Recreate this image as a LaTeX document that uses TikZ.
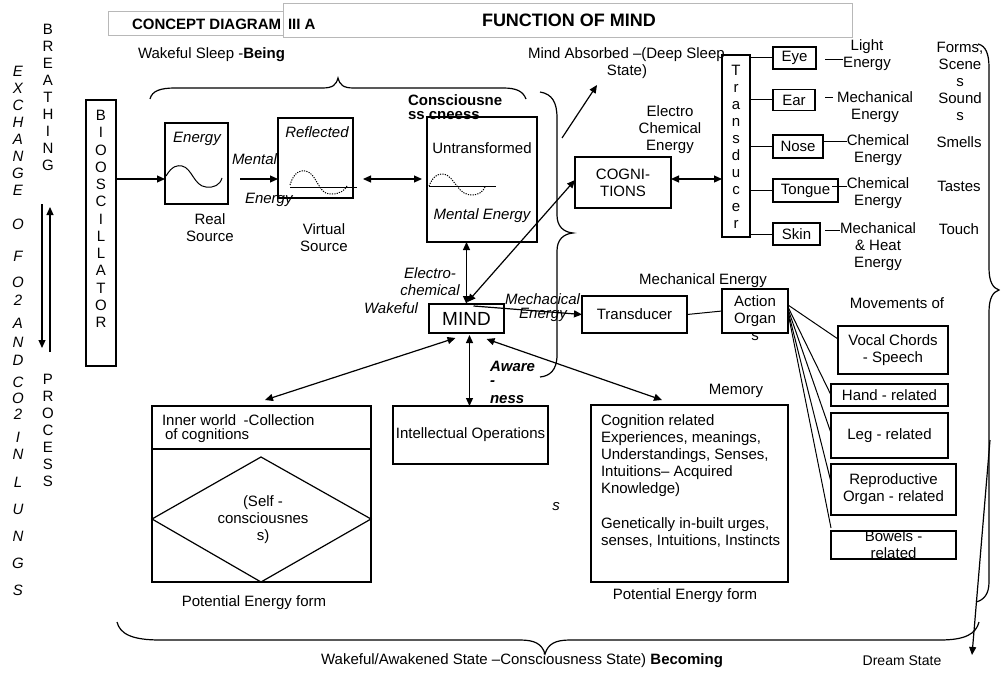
\documentclass[tikz,border=0pt]{standalone}
\usepackage{fontspec}
\setmainfont{Liberation Sans}
\usetikzlibrary{arrows.meta,calc}
\newcommand\fs{\fontsize{15}{17}\selectfont}
\begin{document}
\begin{tikzpicture}[x=1pt,y=-1pt,
  every node/.style={font=\fs, inner sep=0pt, outer sep=0pt},
  box/.style={draw, line width=1.25pt, inner sep=0pt},
  conn/.style={line width=1.2pt},
  arr/.style={conn, -{Triangle[length=8pt,width=7pt]}},
  darr/.style={conn, {Triangle[length=8pt,width=7pt]}-{Triangle[length=8pt,width=7pt]}},
  brace/.style={line width=1.2pt},
  titlebox/.style={draw=black!28, line width=1pt, fill=white},
  wave/.style={line width=1pt, dash pattern=on 1.2pt off 1.2pt},
  stack/.style={align=center, font=\fontsize{15}{17}\selectfont},
]
\useasboundingbox (0,0) rectangle (1001,674);

% ---------- title ----------
\draw[titlebox] (108,12) rectangle (400,36);
\draw[titlebox] (283,4) rectangle (852,38);
\node[anchor=west, font=\fontsize{15}{17}\selectfont\bfseries] (t1) at (132,24) {CONCEPT DIAGRAM};
\node[anchor=west, font=\fontsize{15}{17}\selectfont\bfseries] (t1b) at (288,24) {III A};
\node[anchor=west, font=\fontsize{18}{20}\selectfont\bfseries] (t2) at (482,20) {FUNCTION OF MIND};

% ---------- left column ----------
\node[stack] (breath) at (48,97) {B\\R\\E\\A\\T\\H\\I\\N\\G};
\node[stack] (proc) at (48,430) {P\\R\\O\\C\\E\\S\\S};
\node[stack, font=\fontsize{15}{17}\selectfont\itshape] (exch) at (18,131) {E\\X\\C\\H\\A\\N\\G\\E};
\node[stack, font=\fontsize{15}{32}\selectfont\itshape] (of) at (18,240) {O\\F};
\node[stack, font=\fontsize{15}{18}\selectfont\itshape] (o2) at (18,291) {O\\2};
\node[stack, font=\fontsize{15}{18.5}\selectfont\itshape] (and) at (18,342) {A\\N\\D};
\node[stack, font=\fontsize{15}{16}\selectfont\itshape] (co2) at (18,398) {C\\O\\2};
\node[stack, font=\fontsize{15}{17}\selectfont\itshape] (in) at (18,446) {I\\N};
\node[stack, font=\fontsize{15}{27}\selectfont\itshape] (lungs) at (18,536) {L\\U\\N\\G\\S};
\coordinate (d1) at (42,204);
\coordinate (d2) at (42,348);
\coordinate (u1) at (50,352);
\coordinate (u2) at (50,207);
\draw[arr] (d1) -- (d2);
\draw[arr] (u1) -- (u2);

% ---------- bio-oscillator and energy chain ----------
\node[box, minimum width=30pt, minimum height=266pt] (bio) at (101,233) {};
\node[stack, font=\fontsize{15}{17.25}\selectfont] (biotxt) at (101,219) {B\\I\\O\\O\\S\\C\\I\\L\\L\\A\\T\\O\\R};

\node[anchor=west] (wsb) at (138,55) {Wakeful Sleep -\textbf{Being}};
\draw[brace] (150,99) .. controls (152,91) and (160,88) .. (175,88) -- (322,88)
  .. controls (333,88) and (336,85) .. (338,78) .. controls (340,85) and (343,88) .. (354,88)
  -- (503,88) .. controls (516,88) and (523,91) .. (526,99);

\node[box, minimum width=63pt, minimum height=81pt] (energy) at (196.5,163.5) {};
\node[font=\fs\itshape] (energyt) at (197,139) {Energy};
\draw[line width=1pt] (166,176) .. controls (172,166) and (177,165) .. (182,166)
  .. controls (192,168) and (194,186) .. (206,187) .. controls (214,188) and (220,185) .. (222,178);
\node[align=center] (real) at (210,227.5) {Real\\Source};

\node[box, minimum width=75pt, minimum height=80pt] (refl) at (315.5,158) {};
\node[font=\fs\itshape] (reflt) at (317,132) {Reflected};
\draw[line width=1pt] (290,187) -- (357,187);
\draw[wave] (290,185) .. controls (294,172) and (300,170) .. (305,171)
  .. controls (313,172) and (316,182) .. (320,187) .. controls (324,194) and (328,194) .. (332,194)
  .. controls (340,194) and (345,190) .. (347,186);
\node[align=center] (virt) at (324,238) {Virtual\\Source};

\node[anchor=west, font=\fs\itshape] (ment) at (232,159) {Mental};
\node[anchor=west, font=\fs\itshape] (menten) at (245,200) {Energy};

\coordinate (r1) at (0,179);
\draw[arr] (bio.east |- r1) -- (energy.west |- r1);
\draw[arr, shorten <=12pt] (energy.east |- r1) -- (refl.west |- r1);

\node[box, minimum width=110pt, minimum height=125pt] (untr) at (482,179.5) {};
\node[anchor=west, font=\fs\bfseries] (consc1) at (408,100) {Consciousne};
\node[anchor=west, font=\fs\bfseries] (consc2) at (408,116) {ss cneess};
\draw[line width=1.25pt] (untr.north west) -- (untr.north east);
\node (untrt) at (482,148) {Untransformed};
\draw[line width=1pt] (429,186) -- (496,186);
\draw[wave] (429,186) .. controls (433,176) and (438,174) .. (442,174)
  .. controls (450,174) and (453,182) .. (457,186) .. controls (461,192) and (466,195) .. (472,195)
  .. controls (478,195) and (483,192) .. (485,187);
\node[font=\fs\itshape] (menten2) at (482,216) {Mental Energy};
\draw[darr, shorten <=10pt, shorten >=5pt] (refl.east |- r1) -- (untr.west |- r1);

% brace closing the consciousness group
\draw[brace] (540,92) .. controls (552,94) and (557,102) .. (557,118) -- (557,215)
  .. controls (557,226) and (563,232) .. (573,233) .. controls (563,234) and (557,240) .. (557,251)
  -- (557,355) .. controls (557,370) and (550,376) .. (540,377);

% ---------- deep sleep ----------
\node[anchor=west] (absorbed) at (528,55) {Mind Absorbed –(Deep Sleep};
\node (statet) at (627,72) {State)};
\coordinate (ab1) at (562,138);
\coordinate (ab2) at (597,85);
\draw[arr] (ab1) -- (ab2);

% ---------- cognitions and senses ----------
\node[box, minimum width=96pt, minimum height=51pt, align=center] (cogn) at (623,182.5) {COGNI-\\TIONS};
\node[align=center] (ece) at (670,130) {Electro\\Chemical\\Energy};

\node[box, minimum width=28pt, minimum height=182pt] (trans) at (736,146) {};
\node[stack] (transt) at (736,147) {T\\r\\a\\n\\s\\d\\u\\c\\e\\r};
\draw[darr] (cogn.east |- r1) -- (trans.west |- r1);

\node[box, minimum width=43pt, minimum height=22pt] (eye) at (794.5,58) {Eye};
\node[box, minimum width=42pt, minimum height=21pt] (ear) at (794,100) {Ear};
\node[box, minimum width=50pt, minimum height=23pt] (nose) at (798,146.5) {Nose};
\node[box, minimum width=65pt, minimum height=23pt] (tongue) at (805.5,190.5) {Tongue};
\node[box, minimum width=47pt, minimum height=22pt] (skin) at (796.5,234) {Skin};
\foreach \s in {eye,ear,nose,tongue,skin}
  \draw[line width=1pt] (trans.east |- \s.west) -- (\s.west);

\node[align=center] (le) at (867,55) {Light\\Energy};
\node[align=center] (me1) at (875,107.5) {Mechanical\\Energy};
\node[align=center] (ce1) at (878,150.5) {Chemical\\Energy};
\node[align=center] (ce2) at (878,193.5) {Chemical\\Energy};
\node[align=center] (mhe) at (878,246.5) {Mechanical\\\& Heat\\Energy};
\coordinate (l1) at (825,60);
\coordinate (l2) at (825,98);
\coordinate (l3) at (823,142);
\coordinate (l4) at (832,186);
\coordinate (l5) at (825,230);
\draw[line width=1pt] (l1) -- (le.west |- l1);
\draw[line width=1pt] (l2) -- ++(8,0);
\draw[line width=1pt] (l3) -- (ce1.west |- l3);
\draw[line width=1pt] (l4) -- (ce2.west |- l4);
\draw[line width=1pt] (l5) -- (mhe.west |- l5);

\node[align=center] (forms) at (960,81) {Forms,\\Scene\\s\\Sound\\s};
\node (smells) at (959,142) {Smells};
\node (tastes) at (959,186) {Tastes};
\node (touch) at (959,229) {Touch};

% big brace on the right and the dream state
\draw[brace] (978,44) .. controls (986,46) and (989,54) .. (989,68) -- (989,268)
  .. controls (989,282) and (993,288) .. (999,290) .. controls (993,292) and (989,298) .. (989,312)
  -- (989,582) .. controls (989,594) and (984,600) .. (976,602);
\node[font=\fontsize{14}{16}\selectfont] (dream) at (902,661) {Dream State};
\coordinate (dr1) at (990,440);
\coordinate (dr2) at (972,655);
\draw[arr] (dr1) -- (dr2);

% ---------- mind ----------
\node[box, minimum width=75pt, minimum height=29pt, font=\fontsize{19}{21}\selectfont] (mind) at (466.5,318.5) {MIND};
\node[align=center, font=\fs\itshape] (elch) at (430,281.5) {Electro-\\chemical};
\node[anchor=east, font=\fs\itshape] (wakef) at (418,308) {Wakeful};
\draw[darr] (mind.north) -- (mind.north |- untr.south);
\coordinate (mc) at ($(mind.north)+(1,-2)$);
\draw[darr] (mc) -- (cogn.west |- 0,180);

% mechanical branch
\node[box, minimum width=105pt, minimum height=37pt] (mtrans) at (634.5,314.5) {Transducer};
\node[anchor=west, font=\fs\itshape] (mecha) at (505,299) {Mechacical};
\node[font=\fs\itshape] (mechen) at (543,315) {Energy};
\coordinate (mt0) at ($(mind.north)+(7,2)$);
\draw[arr] (mt0) -- (mtrans.west);
\node (mechE) at (703,281) {Mechanical Energy};
\node[box, minimum width=66pt, minimum height=44pt, align=center] (action) at (755,311) {Action\\Organ};
\node (actions) at (755,337) {s};
\draw[line width=1pt] (mtrans.east) -- (action.west);

\node (movof) at (897,303) {Movements of};
\node[box, minimum width=110pt, minimum height=48pt, align=center] (vocal) at (893,350) {Vocal Chords\\- Speech};
\node[box, minimum width=117pt, minimum height=22pt] (hand) at (889.5,395) {Hand - related};
\node[box, minimum width=117pt, minimum height=45pt] (leg) at (889.5,435.5) {Leg - related};
\node[box, minimum width=125pt, minimum height=51pt, align=center] (repro) at (893.5,489.5) {Reproductive\\Organ - related};
\node[box, minimum width=125pt, minimum height=28pt] (bowels) at (893.5,545) {};
\node[align=center] (bowt) at (893.5,545) {Bowels -\\related};
\draw[line width=1pt] ($(action.east)+(0,-6)$) -- ($(vocal.west)+(0,-11)$);
\draw[line width=1pt] ($(action.east)+(0,-4)$) -- (hand.west);
\draw[line width=1pt] ($(action.east)+(0,-2)$) -- ($(leg.west)+(0,-2.5)$);
\draw[line width=1pt] ($(action.east)+(0,0)$) -- ($(repro.west)+(0,-7.5)$);
\draw[line width=1pt] ($(action.east)+(0,2)$) -- ($(bowels.west)+(0,-17)$);

% ---------- lower row ----------
\node[box, minimum width=219pt, minimum height=176pt] (inner) at (261.5,494) {};
\draw[line width=1.25pt] (inner.west |- 0,449) -- (inner.east |- 0,449);
\node[anchor=west] (innert1) at (162,420) {Inner world\enspace-Collection};
\node[anchor=west] (innert2) at (165,436) {of cognitions};
\draw[line width=1.2pt] (261,457) -- (inner.west |- 0,519) -- (261,582) -- (inner.east |- 0,519) -- cycle;
\node[align=center] (self) at (263,520) {(Self -\\consciousnes\\s)};
\node (pef1) at (254,603) {Potential Energy form};

\node[box, minimum width=155pt, minimum height=58pt] (intel) at (470.5,435) {Intellectual Operations};
\node[anchor=west, font=\fs\bfseries\itshape] (aw1) at (490,366) {Aware};
\node[anchor=west, font=\fs\bfseries\itshape] (aw2) at (490,383) {-};
\node[anchor=west, font=\fs\bfseries\itshape] (aw3) at (490,400) {ness};
\draw[line width=1.25pt] (intel.north west) -- (intel.north east);

\node[box, minimum width=197pt, minimum height=177pt] (memory) at (689.5,493.5) {};
\node (memt) at (736,391) {Memory};
\node[anchor=north west, align=left] (memtxt) at (601,415) {Cognition related\\Experiences, meanings,\\Understandings, Senses,\\Intuitions– Acquired\\Knowledge)\\[18pt]Genetically in-built urges,\\senses, Intuitions, Instincts};
\node (pef2) at (685,596) {Potential Energy form};
\node[font=\fs\itshape] (sit) at (556,507) {s};

\coordinate (m1) at ($(mind.south)+(-11,5)$);
\coordinate (m2) at ($(mind.south)+(20,6)$);
\coordinate (m3) at ($(mind.south)+(3,2)$);
\coordinate (i1) at (265,400);
\coordinate (me1) at (662,400);
\draw[darr] (m1) -- (i1);
\draw[darr] (m3) -- (m3 |- intel.north);
\draw[darr] (m2) -- (me1);

% ---------- bottom brace ----------
\draw[brace] (117,622) .. controls (120,634) and (132,640) .. (160,640) -- (520,640)
  .. controls (535,640) and (542,644) .. (545,654) .. controls (548,644) and (555,640) .. (570,640)
  -- (940,640) .. controls (965,640) and (976,634) .. (979,622);
\node (wake) at (522,661) {Wakeful/Awakened State –Consciousness State) \textbf{Becoming}};
\end{tikzpicture}
\end{document}
